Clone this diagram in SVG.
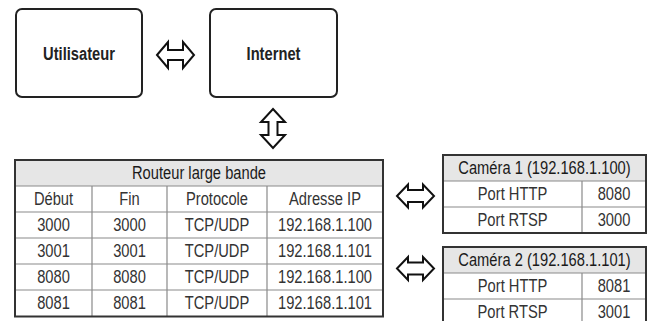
<svg xmlns="http://www.w3.org/2000/svg" width="648" height="321" viewBox="0 0 648 321">
<style>
  .box{fill:#fff;stroke:#222;stroke-width:2}
  text{font-family:"Liberation Sans",Arial,sans-serif;text-anchor:middle}
  .lbl{font-size:17.5px;font-weight:bold;fill:#222}
  .arrow{fill:#fff;stroke:#111;stroke-width:2;stroke-linejoin:miter}
  .outer{fill:none;stroke:#333;stroke-width:2}
  .hdr{fill:#e6e6e6;stroke:none}
  .grid{stroke:#8a8a8a;stroke-width:1.2;fill:none}
  .th{font-size:17.5px;fill:#1a1a1a}
  .td{font-size:17.5px;fill:#333}
</style>

<g id="utilisateur">
  <rect class="box" x="16" y="9" width="126" height="88" rx="6"/>
  <text class="lbl" transform="translate(79 60) scale(0.84 1)">Utilisateur</text>
</g>

<g id="internet">
  <rect class="box" x="210" y="9" width="127" height="88" rx="6"/>
  <text class="lbl" transform="translate(273.5 60) scale(0.84 1)">Internet</text>
</g>

<g id="connectors">
  <path class="arrow" d="M157,55 L168,42 L168,50 L183,50 L183,42 L194,55 L183,68 L183,60 L168,60 L168,68 Z"/>
  <path class="arrow" d="M273,109 L285,122 L277.5,122 L277.5,135 L285,135 L273,148 L261,135 L268.5,135 L268.5,122 L261,122 Z"/>
  <path class="arrow" d="M397,196 L408,184.5 L408,190 L423,190 L423,184.5 L434,196 L423,207.5 L423,202 L408,202 L408,207.5 Z"/>
  <path class="arrow" d="M397,268.5 L408,257 L408,262.5 L423,262.5 L423,257 L434,268.5 L423,280 L423,274.5 L408,274.5 L408,280 Z"/>
</g>

<g id="routeur">
  <rect class="hdr" x="15" y="160" width="368" height="26"/>
  <path class="grid" d="M15,186 H383 M15,212 H383 M15,238 H383 M15,264 H383 M15,290 H383 M92,186 V316.5 M167,186 V316.5 M267,186 V316.5"/>
  <rect class="outer" x="15" y="160" width="368" height="156.5"/>
  <text class="th" transform="translate(199 179) scale(0.84 1)">Routeur large bande</text>
  <text class="td" transform="translate(53.5 205) scale(0.84 1)">Début</text>
  <text class="td" transform="translate(129.5 205) scale(0.84 1)">Fin</text>
  <text class="td" transform="translate(217 205) scale(0.84 1)">Protocole</text>
  <text class="td" transform="translate(325 205) scale(0.84 1)">Adresse IP</text>
  <text class="td" transform="translate(53.5 231) scale(0.84 1)">3000</text>
  <text class="td" transform="translate(129.5 231) scale(0.84 1)">3000</text>
  <text class="td" transform="translate(217 231) scale(0.84 1)">TCP/UDP</text>
  <text class="td" transform="translate(325 231) scale(0.84 1)">192.168.1.100</text>
  <text class="td" transform="translate(53.5 257) scale(0.84 1)">3001</text>
  <text class="td" transform="translate(129.5 257) scale(0.84 1)">3001</text>
  <text class="td" transform="translate(217 257) scale(0.84 1)">TCP/UDP</text>
  <text class="td" transform="translate(325 257) scale(0.84 1)">192.168.1.101</text>
  <text class="td" transform="translate(53.5 283) scale(0.84 1)">8080</text>
  <text class="td" transform="translate(129.5 283) scale(0.84 1)">8080</text>
  <text class="td" transform="translate(217 283) scale(0.84 1)">TCP/UDP</text>
  <text class="td" transform="translate(325 283) scale(0.84 1)">192.168.1.100</text>
  <text class="td" transform="translate(53.5 309) scale(0.84 1)">8081</text>
  <text class="td" transform="translate(129.5 309) scale(0.84 1)">8081</text>
  <text class="td" transform="translate(217 309) scale(0.84 1)">TCP/UDP</text>
  <text class="td" transform="translate(325 309) scale(0.84 1)">192.168.1.101</text>
</g>

<g id="camera1">
  <rect class="hdr" x="443" y="155" width="203" height="26"/>
  <path class="grid" d="M443,181 H646 M443,207 H646 M582,181 V233"/>
  <rect class="outer" x="443" y="155" width="203" height="78"/>
  <text class="th" transform="translate(544.5 174) scale(0.84 1)">Caméra 1 (192.168.1.100)</text>
  <text class="td" transform="translate(512.5 200) scale(0.84 1)">Port HTTP</text>
  <text class="td" transform="translate(614 200) scale(0.84 1)">8080</text>
  <text class="td" transform="translate(512.5 226) scale(0.84 1)">Port RTSP</text>
  <text class="td" transform="translate(614 226) scale(0.84 1)">3000</text>
</g>

<g id="camera2">
  <rect class="hdr" x="443" y="247" width="203" height="26"/>
  <path class="grid" d="M443,273 H646 M443,299 H646 M582,273 V325"/>
  <rect class="outer" x="443" y="247" width="203" height="80"/>
  <text class="th" transform="translate(544.5 266) scale(0.84 1)">Caméra 2 (192.168.1.101)</text>
  <text class="td" transform="translate(512.5 292) scale(0.84 1)">Port HTTP</text>
  <text class="td" transform="translate(614 292) scale(0.84 1)">8081</text>
  <text class="td" transform="translate(512.5 318) scale(0.84 1)">Port RTSP</text>
  <text class="td" transform="translate(614 318) scale(0.84 1)">3001</text>
</g>
</svg>
